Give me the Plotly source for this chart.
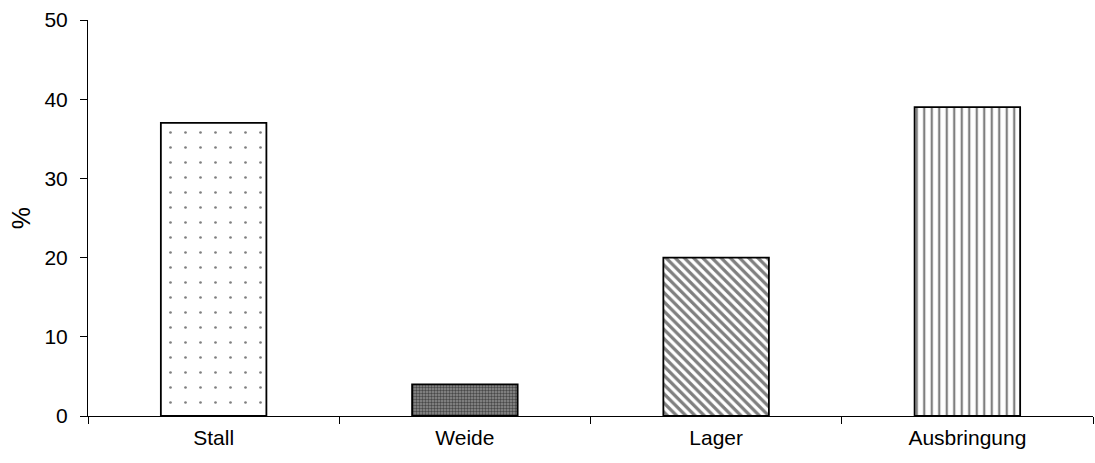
import plotly.graph_objects as go

categories = ["Stall", "Weide", "Lager", "Ausbringung"]
values = [37, 4, 20, 39]
y_ticks = [0, 10, 20, 30, 40, 50]

shapes = [".", ".", "\\", "|"]
fg = ["#000000", "#000000", "#000000", "#000000"]
bg = ["#ffffff", "#909090", "#ffffff", "#ffffff"]
sizes = [15, 3, 6.5, 7.5]
solid = [0.025, 0.5, 0.5, 0.3]

fig = go.Figure()
fig.add_trace(go.Bar(
    x=categories, y=values,
    marker=dict(
        color="#ffffff",
        line=dict(color="#000000", width=1.8),
        pattern=dict(shape=shapes, fgcolor=fg, bgcolor=bg, size=sizes,
                     solidity=solid, fillmode="overlay"),
    ),
    width=0.42,
))
fig.update_layout(
    width=1095, height=463,
    margin=dict(l=88, r=2, t=20, b=47),
    paper_bgcolor="white", plot_bgcolor="white",
    font=dict(family="Liberation Sans, Arial, sans-serif", size=21, color="black"),
    showlegend=False,
)
fig.update_xaxes(
    showline=True, linecolor="black", linewidth=1,
    ticks="outside", tickson="boundaries", ticklen=7, tickcolor="black",
    showgrid=False, range=[-0.5, 3.5],
    ticklabelstandoff=3,
)
fig.update_yaxes(
    range=[0, 50], tickvals=y_ticks,
    showline=True, linecolor="black", linewidth=1,
    ticks="outside", ticklen=7, tickcolor="black",
    showgrid=False, zeroline=False,
    ticklabelstandoff=8,
    title=dict(text="%", standoff=6),
)
fig.write_html("out.html")
